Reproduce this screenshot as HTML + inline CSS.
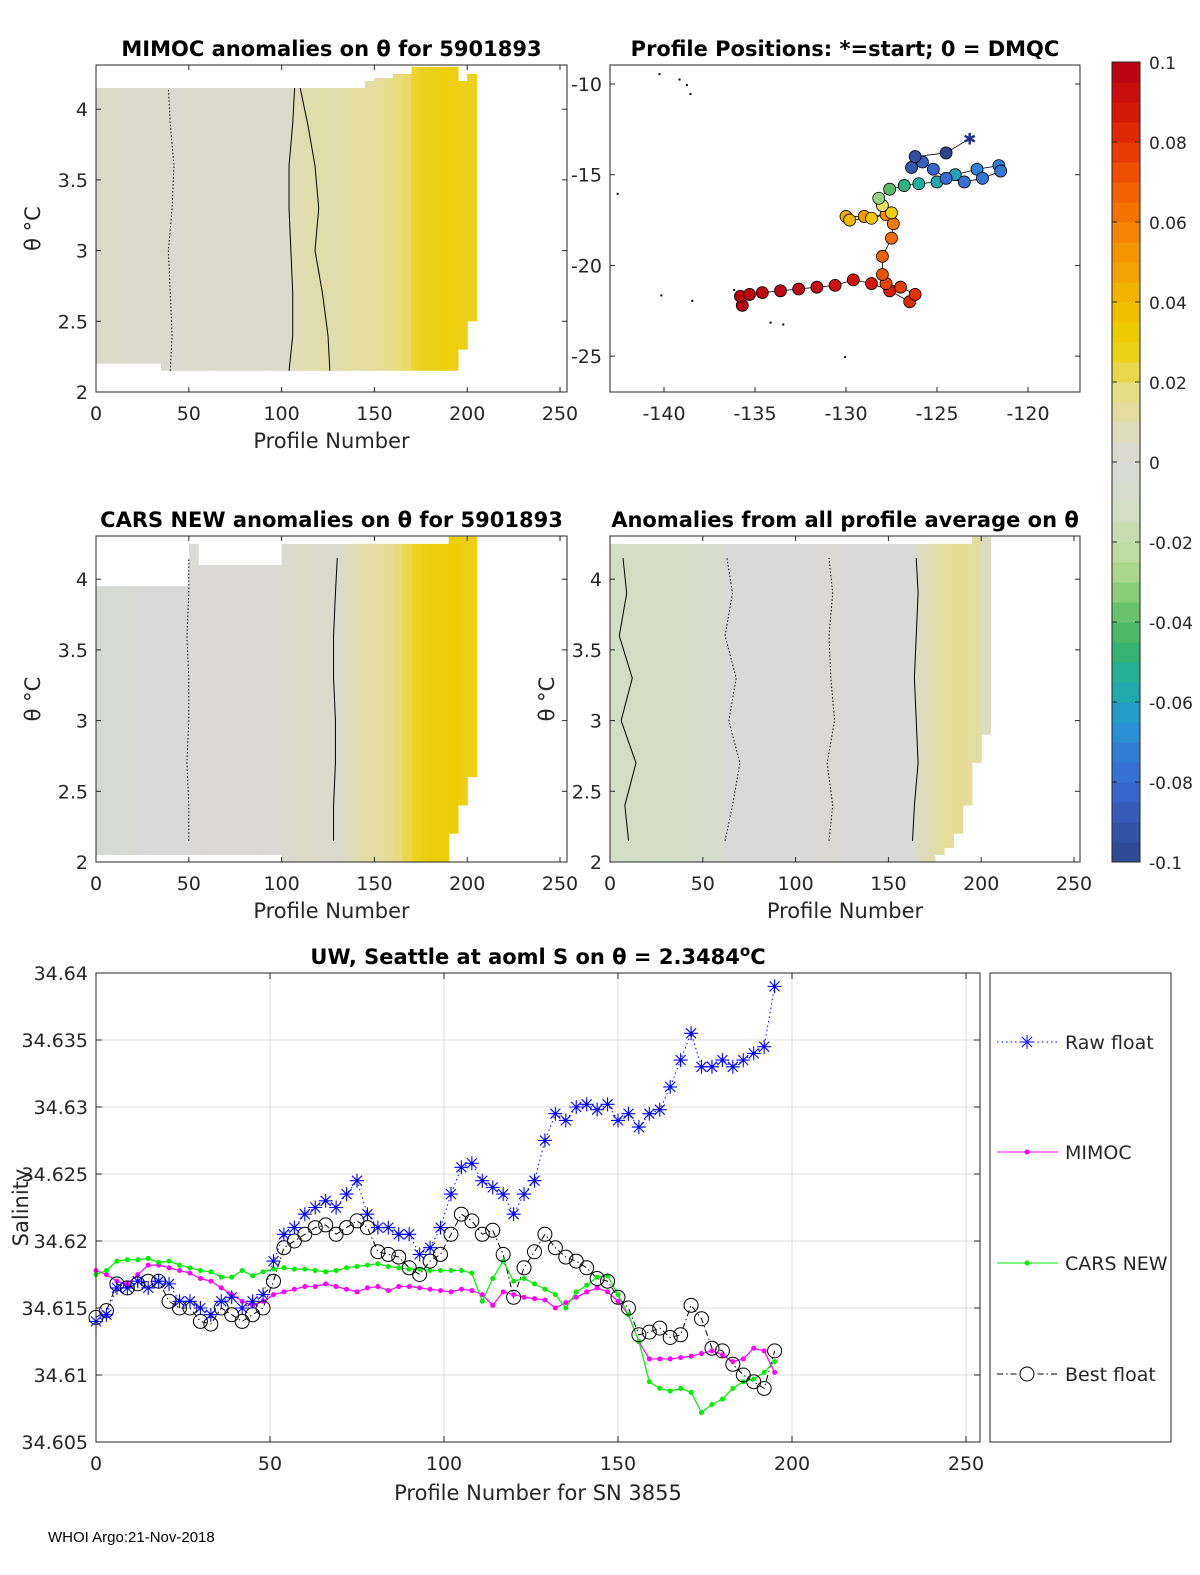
<!DOCTYPE html>
<html><head><meta charset="utf-8"><style>
html,body{margin:0;padding:0;background:#fff;}
svg{display:block;font-family:"DejaVu Sans","Liberation Sans",sans-serif;}
</style></head><body>
<svg id="fig" width="1200" height="1575" viewBox="0 0 1200 1575" xmlns="http://www.w3.org/2000/svg">
<rect x="0" y="0" width="1200" height="1575" fill="#fff"/>
<g id="layer"></g>
<text x="48" y="1542" font-size="15" font-family="Liberation Sans, sans-serif">WHOI Argo:21-Nov-2018</text>
</svg>
<script>
// ===== Data =====
const profStep = 3;
const rawFloat = [34.614,34.6145,34.6165,34.6165,34.617,34.6165,34.617,34.6168,34.6155,34.6155,34.615,34.6145,34.6155,34.6158,34.615,34.6155,34.616,34.6185,34.6205,34.621,34.622,34.6225,34.623,34.6225,34.6235,34.6245,34.622,34.621,34.621,34.6205,34.6205,34.619,34.6195,34.621,34.6235,34.6255,34.6258,34.6245,34.624,34.6235,34.622,34.6235,34.6245,34.6275,34.6295,34.629,34.63,34.6302,34.6298,34.6302,34.629,34.6295,34.6285,34.6295,34.6298,34.6315,34.6335,34.6355,34.633,34.633,34.6335,34.633,34.6335,34.634,34.6345,34.639];
const mimoc = [34.6178,34.6175,34.617,34.6168,34.6175,34.6182,34.6182,34.618,34.6178,34.6176,34.6172,34.617,34.6165,34.616,34.6155,34.6152,34.6155,34.616,34.6162,34.6164,34.6166,34.6166,34.6168,34.6166,34.6164,34.6162,34.6165,34.6166,34.6163,34.6166,34.6166,34.6165,34.6164,34.6163,34.6162,34.6164,34.6163,34.616,34.6152,34.6162,34.616,34.6158,34.6157,34.6156,34.615,34.6154,34.6158,34.6162,34.6165,34.6162,34.6155,34.6145,34.6125,34.6112,34.6112,34.6112,34.6113,34.6114,34.6116,34.6118,34.6115,34.611,34.6112,34.612,34.6118,34.6102];
const carsNew = [34.6175,34.6178,34.6185,34.6186,34.6186,34.6187,34.6184,34.6185,34.6182,34.618,34.6178,34.6177,34.6173,34.6173,34.6178,34.6174,34.6177,34.6179,34.618,34.6179,34.6179,34.6178,34.6177,34.6178,34.618,34.6181,34.6182,34.6183,34.6181,34.618,34.6179,34.6179,34.6178,34.6178,34.6178,34.6178,34.6176,34.6155,34.6172,34.6185,34.617,34.6172,34.6168,34.6164,34.616,34.615,34.6162,34.6167,34.6173,34.6174,34.616,34.6145,34.6125,34.6095,34.609,34.6088,34.609,34.6087,34.6072,34.6078,34.6082,34.609,34.6095,34.6097,34.6102,34.611];
const bestFloat = [34.6143,34.6148,34.6168,34.6165,34.6168,34.617,34.617,34.6155,34.615,34.615,34.614,34.6138,34.615,34.6145,34.614,34.6145,34.615,34.617,34.6195,34.62,34.6205,34.621,34.6212,34.6205,34.621,34.6215,34.621,34.6192,34.619,34.6188,34.618,34.6175,34.6185,34.619,34.6205,34.622,34.6215,34.6205,34.6208,34.619,34.6158,34.618,34.6192,34.6205,34.6195,34.6188,34.6185,34.618,34.6172,34.617,34.6158,34.615,34.613,34.6132,34.6135,34.6128,34.613,34.6152,34.6142,34.612,34.6118,34.6108,34.61,34.6095,34.609,34.6118];
const salTicks = [34.605,34.61,34.615,34.62,34.625,34.63,34.635,34.64];
const salTickLabels = ["34.605","34.61","34.615","34.62","34.625","34.63","34.635","34.64"];
const profTicks = [0,50,100,150,200,250];
const thetaTicks = [2,2.5,3,3.5,4];
const thetaTickLabels = ["2","2.5","3","3.5","4"];
const lonTicks = [-140,-135,-130,-125,-120];
const latTicks = [-10,-15,-20,-25];
const cbTicks = [-0.1,-0.08,-0.06,-0.04,-0.02,0,0.02,0.04,0.06,0.08,0.1];
const cbTickLabels = ["-0.1","-0.08","-0.06","-0.04","-0.02","0","0.02","0.04","0.06","0.08","0.1"];
// heatmap columns (5-profile bins)
const colWidth = 5;
const mimocAnom = [0.004,0.004,0.004,0.003,0.003,0.003,0.003,0.003,0.002,0.003,0.003,0.003,0.003,0.003,0.003,0.003,0.003,0.003,0.003,0.003,0.003,0.008,0.01,0.01,0.011,0.01,0.011,0.012,0.012,0.013,0.014,0.016,0.018,0.02,0.025,0.027,0.028,0.03,0.029,0.028,0.027];
const mimocTop = [4.15,4.15,4.15,4.15,4.15,4.15,4.15,4.15,4.15,4.15,4.15,4.15,4.15,4.15,4.15,4.15,4.15,4.15,4.15,4.15,4.15,4.15,4.15,4.15,4.15,4.15,4.15,4.15,4.15,4.2,4.22,4.22,4.25,4.25,4.3,4.3,4.3,4.3,4.3,4.2,4.25];
const mimocBot = [2.2,2.2,2.2,2.2,2.2,2.2,2.2,2.15,2.15,2.15,2.15,2.15,2.15,2.15,2.15,2.15,2.15,2.15,2.15,2.15,2.15,2.15,2.15,2.15,2.15,2.15,2.15,2.15,2.15,2.15,2.15,2.15,2.15,2.15,2.15,2.15,2.15,2.15,2.15,2.3,2.5];
const carsAnom = [-0.003,-0.003,-0.002,-0.002,-0.001,0,0,0,0,0,0.001,0.001,0.001,0.001,0.001,0.001,0.001,0.001,0.001,0.001,0.002,0.004,0.005,0.004,0.003,0.003,0.004,0.008,0.01,0.012,0.013,0.015,0.018,0.022,0.026,0.028,0.03,0.03,0.031,0.029,0.028];
const carsTop = [3.95,3.95,3.95,3.95,3.95,3.95,3.95,3.95,3.95,3.95,4.25,4.1,4.1,4.1,4.1,4.1,4.1,4.1,4.1,4.1,4.25,4.25,4.25,4.25,4.25,4.25,4.25,4.25,4.25,4.25,4.25,4.25,4.25,4.25,4.25,4.25,4.25,4.25,4.3,4.3,4.3];
const carsBot = [2.05,2.05,2.05,2.05,2.05,2.05,2.05,2.05,2.05,2.05,2.05,2.05,2.05,2.05,2.05,2.05,2.05,2.05,2.05,2.05,2.0,2.0,2.0,2.0,2.0,2.0,2.0,2.0,2.0,2.0,2.0,2.0,2.0,2.0,2.0,2.0,2.0,2.0,2.2,2.4,2.6];
const allAnom = [-0.012,-0.012,-0.012,-0.011,-0.011,-0.01,-0.01,-0.01,-0.009,-0.009,-0.008,-0.006,0,0,0,0,0,0,0,0,0,0,0.001,0.001,0.001,0,0,0,0,0,0,0,0,0.006,0.01,0.012,0.014,0.015,0.014,0.012,0.006];
const allTop = [4.25,4.25,4.25,4.25,4.25,4.25,4.25,4.25,4.25,4.25,4.25,4.25,4.25,4.25,4.25,4.25,4.25,4.25,4.25,4.25,4.25,4.25,4.25,4.25,4.25,4.25,4.25,4.25,4.25,4.25,4.25,4.25,4.25,4.25,4.25,4.25,4.25,4.25,4.25,4.3,4.3];
const allBot = [2.0,2.0,2.0,2.0,2.0,2.0,2.0,2.0,2.0,2.0,2.0,2.0,2.0,2.0,2.0,2.0,2.0,2.0,2.0,2.0,2.0,2.0,2.0,2.0,2.0,2.0,2.0,2.0,2.0,2.0,2.0,2.0,2.0,2.0,2.0,2.05,2.1,2.2,2.4,2.7,2.9];
// contour lines: profile number along theta levels
const contourTheta = [2.15,2.4,2.7,3.0,3.3,3.6,3.9,4.15];
const mimocContour1 = [104,106,106,105,104,104,106,107];
const mimocContour2 = [126,125,122,118,120,118,114,110];
const mimocDot1 = [40,41,40,39,41,42,40,39];
const carsContour1 = [128,128,129,129,128,128,129,130];
const carsDot1 = [50,50,49,50,50,49,50,50];
const allContour1 = [163,164,166,165,164,165,166,165];
const allContour2 = [10,8,14,6,12,5,9,7];
const allDot1 = [62,66,70,64,68,62,66,63];
const allDot2 = [118,120,117,121,119,118,120,118];
// float track
const trackLon = [-123.2,-124.5,-126.2,-126.4,-125.8,-125.2,-124.5,-123.5,-122.5,-121.5,-121.6,-122.8,-124.0,-125.0,-126.0,-126.8,-127.6,-128.2,-128.0,-127.5,-128.6,-129.8,-130.0,-129.0,-127.8,-127.4,-127.5,-128.0,-128.0,-127.8,-127.0,-126.2,-126.5,-127.6,-128.6,-129.6,-130.6,-131.6,-132.6,-133.6,-134.6,-135.3,-135.8,-135.7];
const trackLat = [-13.0,-13.8,-14.0,-14.6,-14.3,-14.7,-15.2,-15.4,-15.2,-14.8,-14.5,-14.7,-15.0,-15.4,-15.5,-15.6,-15.8,-16.3,-16.7,-17.1,-17.4,-17.5,-17.3,-17.3,-17.2,-17.7,-18.5,-19.5,-20.5,-21.0,-21.2,-21.6,-22.0,-21.4,-21.0,-20.8,-21.1,-21.2,-21.3,-21.4,-21.5,-21.6,-21.7,-22.2];
const trackValue = [0,-0.1,-0.095,-0.09,-0.085,-0.082,-0.08,-0.078,-0.076,-0.075,-0.074,-0.072,-0.06,-0.058,-0.055,-0.05,-0.04,-0.03,0.02,0.03,0.035,0.04,0.045,0.05,0.055,0.06,0.065,0.068,0.072,0.075,0.078,0.08,0.082,0.085,0.088,0.09,0.092,0.094,0.095,0.096,0.097,0.098,0.099,0.1];
const dotLon = [-140.3,-139.2,-138.8,-138.6,-142.6,-136.2,-138.5,-140.2,-134.2,-133.5,-130.1];
const dotLat = [-9.4,-9.7,-10.0,-10.5,-16.0,-21.3,-21.9,-21.6,-23.1,-23.2,-25.0];

// ===== Helpers =====
const NS="http://www.w3.org/2000/svg";
const layer=document.getElementById('layer');
function el(tag,attrs,parent){const e=document.createElementNS(NS,tag);for(const k in attrs)e.setAttribute(k,attrs[k]);(parent||layer).appendChild(e);return e;}
const stops=[[-0.1,[44,70,140]],[-0.08,[58,105,210]],[-0.065,[40,150,215]],[-0.055,[30,175,160]],[-0.045,[60,180,100]],[-0.035,[120,200,110]],[-0.025,[185,220,150]],[-0.012,[210,222,195]],[0,[217,217,217]],[0.008,[222,220,185]],[0.018,[232,220,130]],[0.026,[235,210,30]],[0.032,[236,205,0]],[0.042,[242,180,0]],[0.055,[245,140,0]],[0.07,[240,90,0]],[0.085,[220,30,5]],[0.1,[180,0,20]]];
function cmap(v){v=Math.max(-0.1,Math.min(0.1,v));for(let i=1;i<stops.length;i++){if(v<=stops[i][0]){const a=stops[i-1],b=stops[i];const t=(v-a[0])/(b[0]-a[0]);const c=a[1].map((x,j)=>Math.round(x+(b[1][j]-x)*t));return `rgb(${c[0]},${c[1]},${c[2]})`;}}return 'rgb(180,0,20)';}
function txt(x,y,s,o,parent){const t=el('text',Object.assign({x:x,y:y,'font-size':19,fill:'#262626'},o||{}),parent);t.textContent=s;return t;}

// ===== Theta panels =====
function thetaPanel(name,x0,y0,x1,y1,anom,top,bot,contours,dots,title,showYLabel,xlabel){
  const g=el('g',{});
  
  
  const xmax=(x1-x0)/1.856, ymin=2, ppy=141.4;
  const sx=v=>x0+v*(x1-x0)/xmax, sy=v=>y1-(v-ymin)*ppy;
  for(let i=0;i<anom.length;i++){
    const r=el('rect',{x:sx(i*colWidth),y:sy(top[i]),width:sx(colWidth)-x0+0.6,height:sy(bot[i])-sy(top[i]),fill:cmap(anom[i])},g);
    
    
  }
  contours.forEach(c=>{const p=el('polyline',{points:c.map((v,i)=>sx(v)+','+sy(contourTheta[i])).join(' '),fill:'none',stroke:'#000','stroke-width':1},g);});
  dots.forEach(c=>{const p=el('polyline',{points:c.map((v,i)=>sx(v)+','+sy(contourTheta[i])).join(' '),fill:'none',stroke:'#000','stroke-width':1,'stroke-dasharray':'1.5,2'},g);});
  el('rect',{x:x0,y:y0,width:x1-x0,height:y1-y0,fill:'none',stroke:'#262626','stroke-width':1},g);
  profTicks.forEach(t=>{const x=sx(t);el('line',{x1:x,y1:y1,x2:x,y2:y1-5,stroke:'#262626'},g);el('line',{x1:x,y1:y0,x2:x,y2:y0+5,stroke:'#262626'},g);txt(x,y1+28,String(t),{'text-anchor':'middle'},g);});
  thetaTicks.forEach((t,i)=>{const y=sy(t);el('line',{x1:x0,y1:y,x2:x0+5,y2:y,stroke:'#262626'},g);el('line',{x1:x1,y1:y,x2:x1-5,y2:y,stroke:'#262626'},g);txt(x0-8,y+7,thetaTickLabels[i],{'text-anchor':'end'},g);});
  const tt=txt((x0+x1)/2,y0-9,title,{'text-anchor':'middle','font-weight':'bold','font-size':21,fill:'#000'},g);
  
  if(showYLabel){const yl=txt(0,0,'θ °C',{'text-anchor':'middle',transform:`translate(${x0-56},${(y0+y1)/2}) rotate(-90)`,'font-size':21},g);}
  if(xlabel){const xl=txt((x0+x1)/2,y1+56,xlabel,{'text-anchor':'middle','font-size':21},g);}
}
thetaPanel('mimoc-anomaly-panel',96,65,567,392,mimocAnom,mimocTop,mimocBot,[mimocContour1,mimocContour2],[mimocDot1],'MIMOC anomalies on θ  for 5901893',true,'Profile Number');
thetaPanel('cars-anomaly-panel',96,536,567,862,carsAnom,carsTop,carsBot,[carsContour1],[carsDot1],'CARS NEW anomalies on θ for 5901893',true,'Profile Number');
thetaPanel('all-profile-anomaly-panel',610,536,1080,862,allAnom,allTop,allBot,[allContour1,allContour2],[allDot1,allDot2],'Anomalies from all profile average on θ',true,'Profile Number');

// ===== Map =====
(function(){
  const g=el('g',{});
  
  
  const x0=610,x1=1080,y0=65,y1=392;
  const sx=v=>664+(v+140)*18.2, sy=v=>84-(v+10)*18.14;
  el('rect',{x:x0,y:y0,width:x1-x0,height:y1-y0,fill:'#fff',stroke:'#262626'},g);
  for(let i=0;i<dotLon.length;i++){const d=el('rect',{x:sx(dotLon[i]),y:sy(dotLat[i]),width:2,height:2,fill:'#000'},g);}
  el('polyline',{points:trackLon.map((v,i)=>sx(v)+','+sy(trackLat[i])).join(' '),fill:'none',stroke:'#000','stroke-width':0.8},g);
  for(let i=trackLon.length-1;i>=1;i--){const c=el('circle',{cx:sx(trackLon[i]),cy:sy(trackLat[i]),r:6,fill:cmap(trackValue[i]),stroke:'#000','stroke-width':0.8},g);}
  const s=el('text',{x:sx(trackLon[0]),y:sy(trackLat[0])+6,'font-size':16,'text-anchor':'middle',fill:'#23318c'},g);s.textContent='✱';
  
  lonTicks.forEach(t=>{const x=sx(t);el('line',{x1:x,y1:y1,x2:x,y2:y1-5,stroke:'#262626'},g);txt(x,y1+28,String(t),{'text-anchor':'middle'},g);});
  latTicks.forEach(t=>{const y=sy(t);el('line',{x1:x0,y1:y,x2:x0+5,y2:y,stroke:'#262626'},g);el('line',{x1:x1,y1:y,x2:x1-5,y2:y,stroke:'#262626'},g);txt(x0-8,y+7,String(t),{'text-anchor':'end'},g);});
  const t=txt((x0+x1)/2,y0-9,'Profile Positions: *=start; 0 = DMQC',{'text-anchor':'middle','font-weight':'bold','font-size':21,fill:'#000'},g);
  
})();

// ===== Colorbar =====
(function(){
  const g=el('g',{});
  
  
  const x0=1112,w=28,yT=62,yB=862,n=40;
  const sy=v=>yB-(v+0.1)/0.2*(yB-yT);
  for(let i=0;i<n;i++){const v0=-0.1+i*0.2/n;el('rect',{x:x0,y:sy(v0+0.2/n),width:w,height:(yB-yT)/n+0.5,fill:cmap(v0+0.1/n)},g);}
  el('rect',{x:x0,y:yT,width:w,height:yB-yT,fill:'none',stroke:'#262626'},g);
  cbTicks.forEach((t,i)=>{const y=sy(t);el('line',{x1:x0+w,y1:y,x2:x0+w-5,y2:y,stroke:'#262626'},g);el('line',{x1:x0,y1:y,x2:x0+5,y2:y,stroke:'#262626'},g);txt(x0+w+9,y+7,cbTickLabels[i],{'font-size':17},g);});
})();

// ===== Salinity time series =====
(function(){
  const g=el('g',{});
  
  
  const x0=96,x1=980,y0=973,y1=1442;
  const sx=v=>x0+v*3.48, sy=v=>y0+(34.64-v)*13400;
  el('rect',{x:x0,y:y0,width:x1-x0,height:y1-y0,fill:'#fff'},g);
  profTicks.forEach(t=>{const x=sx(t);el('line',{x1:x,y1:y0,x2:x,y2:y1,stroke:'#dcdcdc'},g);});
  salTicks.forEach(t=>{const y=sy(t);el('line',{x1:x0,y1:y,x2:x1,y2:y,stroke:'#dcdcdc'},g);});
  const px=i=>sx(i*profStep);
  function series(name,data,color,dash,width){
    const p=el('polyline',{points:data.map((v,i)=>px(i)+','+sy(v)).join(' '),fill:'none',stroke:color,'stroke-width':width,'stroke-dasharray':dash||'none'},g);
    
    
  }
  series('raw-float',rawFloat,'#0000ff','1.5,3',1);
  series('best-float',bestFloat,'#000','6,3,1.5,3',1);
  series('mimoc',mimoc,'#ff00ff',null,1.2);
  series('cars-new',carsNew,'#00ee00',null,1.2);
  mimoc.forEach((v,i)=>{const c=el('circle',{cx:px(i),cy:sy(v),r:2.5,fill:'#ff00ff'},g);});
  carsNew.forEach((v,i)=>{const c=el('circle',{cx:px(i),cy:sy(v),r:2.5,fill:'#00ee00'},g);});
  bestFloat.forEach((v,i)=>{const c=el('circle',{cx:px(i),cy:sy(v),r:7,fill:'none',stroke:'#000','stroke-width':1},g);});
  rawFloat.forEach((v,i)=>{const x=px(i),y=sy(v);const s=el('path',{d:`M${x-7},${y}H${x+7}M${x},${y-7}V${y+7}M${x-5},${y-5}L${x+5},${y+5}M${x-5},${y+5}L${x+5},${y-5}`,stroke:'#0000ff','stroke-width':1.1,fill:'none'},g);});
  el('rect',{x:x0,y:y0,width:x1-x0,height:y1-y0,fill:'none',stroke:'#262626'},g);
  profTicks.forEach(t=>{const x=sx(t);el('line',{x1:x,y1:y1,x2:x,y2:y1-6,stroke:'#262626'},g);el('line',{x1:x,y1:y0,x2:x,y2:y0+6,stroke:'#262626'},g);txt(x,y1+28,String(t),{'text-anchor':'middle'},g);});
  salTicks.forEach((t,i)=>{const y=sy(t);el('line',{x1:x0,y1:y,x2:x0+6,y2:y,stroke:'#262626'},g);el('line',{x1:x1,y1:y,x2:x1-6,y2:y,stroke:'#262626'},g);txt(x0-8,y+7,salTickLabels[i],{'text-anchor':'end'},g);});
  const t=el('text',{x:(x0+x1)/2,y:y0-9,'text-anchor':'middle','font-weight':'bold','font-size':21,fill:'#000'},g);
  t.innerHTML='UW, Seattle at aoml S on θ = 2.3484<tspan dy="-8" font-size="15">o</tspan><tspan dy="8">C</tspan>';
  
  const xl=txt((x0+x1)/2,y1+58,'Profile Number for SN 3855',{'text-anchor':'middle','font-size':21},g);
  
  const yl=txt(0,0,'Salinity',{'text-anchor':'middle',transform:`translate(${x0-68},${(y0+y1)/2}) rotate(-90)`,'font-size':21},g);
  
  // legend
  const lg=el('g',{},g);
  
  
  el('rect',{x:990,y:973,width:181,height:469,fill:'#fff',stroke:'#262626'},lg);
  const names=['Raw float','MIMOC','CARS NEW','Best float'];
  const cols=['#0000ff','#ff00ff','#00ee00','#000'];
  const dashes=['1.5,3','none','none','6,3,1.5,3'];
  const ys=[1042,1152,1263,1374];
  names.forEach((n,i)=>{
    const e=el('g',{},lg);
    
    
    el('line',{x1:997,y1:ys[i],x2:1058,y2:ys[i],stroke:cols[i],'stroke-dasharray':dashes[i]},e);
    const cx=1027,cy=ys[i];
    if(i===0)el('path',{d:`M${cx-7},${cy}H${cx+7}M${cx},${cy-7}V${cy+7}M${cx-5},${cy-5}L${cx+5},${cy+5}M${cx-5},${cy+5}L${cx+5},${cy-5}`,stroke:'#0000ff',fill:'none'},e);
    if(i===1||i===2)el('circle',{cx:cx,cy:cy,r:2.5,fill:cols[i]},e);
    if(i===3)el('circle',{cx:cx,cy:cy,r:7,fill:'#fff',stroke:'#000'},e);
    txt(1065,cy+7,n,{'font-size':19},e);
  });
})();
</script>
</body></html>
